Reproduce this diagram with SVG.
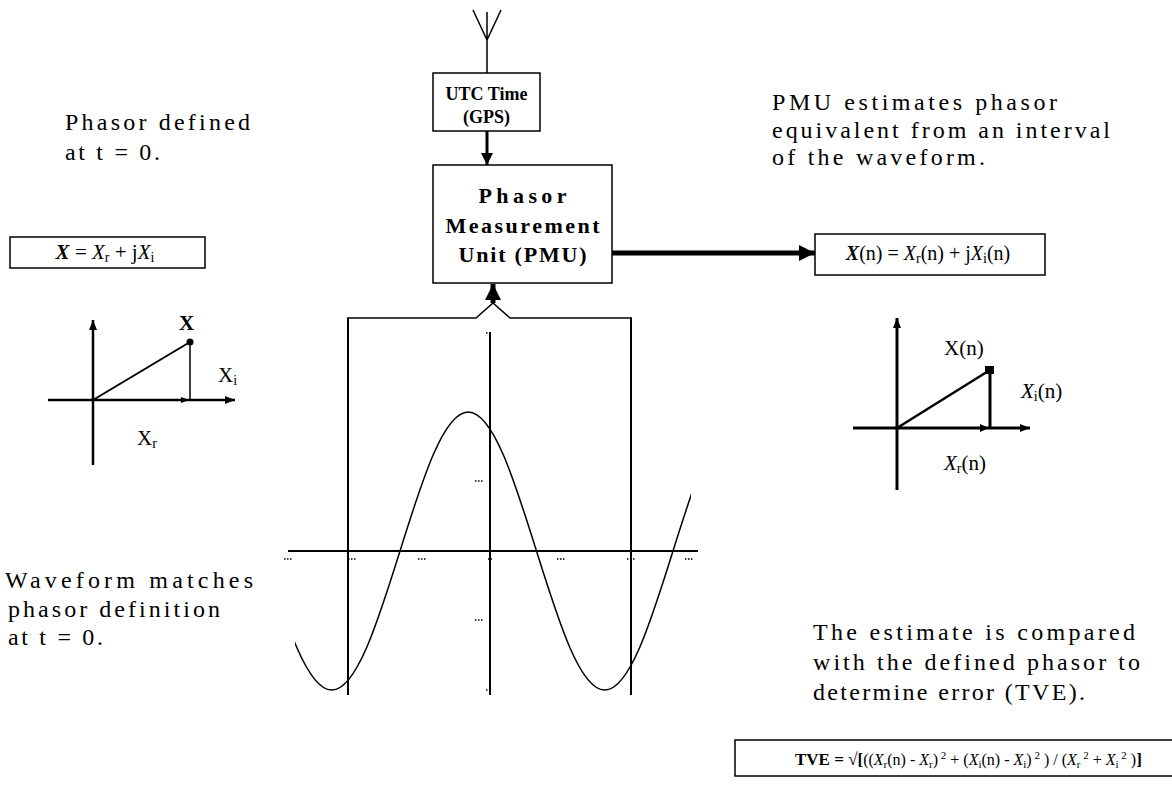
<svg xmlns="http://www.w3.org/2000/svg" width="1172" height="802" viewBox="0 0 1172 802">
<style>
.t{font-family:"Liberation Serif","Times New Roman",serif;font-size:24px;fill:#000}
.b{font-weight:bold}
.i{font-style:italic}
.box{fill:#fff;stroke:#000;stroke-width:1.5}
.ln{stroke:#000;fill:none}
.sub{font-size:14px}
.s2{font-size:11px}
</style>
<defs>
<marker id="ah" viewBox="0 0 10 10" refX="10" refY="5" markerWidth="10" markerHeight="10" markerUnits="userSpaceOnUse" orient="auto"><path d="M0,1 L10,5 L0,9 Z" fill="#000"/></marker>
<marker id="ahm" viewBox="0 0 10 10" refX="10" refY="5" markerWidth="12" markerHeight="12" markerUnits="userSpaceOnUse" orient="auto"><path d="M0,0 L10,5 L0,10 Z" fill="#000"/></marker>
<marker id="ahb" viewBox="0 0 10 10" refX="10" refY="5" markerWidth="16" markerHeight="16" markerUnits="userSpaceOnUse" orient="auto"><path d="M0,0 L10,5 L0,10 Z" fill="#000"/></marker>
<clipPath id="wclip"><rect x="295" y="320" width="396" height="380"/></clipPath>
</defs>
<rect width="1172" height="802" fill="#fff"/>

<g id="antenna">
<path class="ln" style="stroke-width:1.5" d="M473,10 L487,40 L501,10 M487,12 L487,73"/>
</g>

<g id="utc">
<rect class="box" x="433" y="73" width="107" height="58"/>
<text class="t b" x="486.5" y="100" text-anchor="middle" style="font-size:18px">UTC Time</text>
<text class="t b" x="486.5" y="123" text-anchor="middle" style="font-size:18px">(GPS)</text>
</g>

<g id="pmu">
<rect class="box" x="433" y="165" width="179" height="118"/>
<text class="t b" x="522.5" y="203" text-anchor="middle" style="font-size:22px" textLength="88" lengthAdjust="spacing">Phasor</text>
<text class="t b" x="522.5" y="233" text-anchor="middle" style="font-size:22px" textLength="154" lengthAdjust="spacing">Measurement</text>
<text class="t b" x="522.5" y="262" text-anchor="middle" style="font-size:22px" textLength="128" lengthAdjust="spacing">Unit (PMU)</text>
</g>

<g id="connectors">
<line class="ln" x1="487" y1="131" x2="487" y2="165" style="stroke-width:3" marker-end="url(#ahm)"/>
<line class="ln" x1="612" y1="253" x2="815" y2="253" style="stroke-width:5" marker-end="url(#ahb)"/>
<line class="ln" x1="493" y1="303" x2="493" y2="284" style="stroke-width:5" marker-end="url(#ahb)"/>
<path class="ln" style="stroke-width:1.5" d="M347,318 L476,318 L493,303 L510,318 L632,318"/>
</g>

<g id="left-text">
<text class="t" x="65" y="130" textLength="185" lengthAdjust="spacing">Phasor defined</text>
<text class="t" x="65" y="160" textLength="95" lengthAdjust="spacing">at t = 0.</text>
</g>

<g id="phasor-def">
<rect class="box" x="10" y="237" width="195" height="31"/>
<text class="t" x="105" y="259" text-anchor="middle" style="font-size:21px"><tspan class="b i">X</tspan> = <tspan class="i">X</tspan><tspan class="sub" dy="3">r</tspan><tspan dy="-3"> + j</tspan><tspan class="i">X</tspan><tspan class="sub" dy="3">i</tspan></text>
</g>

<g id="left-phasor">
<line class="ln" style="stroke-width:2.5" x1="93" y1="465" x2="93" y2="320" marker-end="url(#ah)"/>
<line class="ln" style="stroke-width:2.5" x1="48" y1="400" x2="235" y2="400" marker-end="url(#ah)"/>
<line class="ln" style="stroke-width:2" x1="93" y1="400" x2="190" y2="342"/>
<line class="ln" style="stroke-width:1.5" x1="190" y1="342" x2="190" y2="400"/>
<circle cx="190" cy="342" r="3.5" fill="#000"/>
<path d="M181,397 L189,400 L181,403 Z" fill="#000"/>
<text class="t b" x="179" y="330" style="font-size:21px">X</text>
<text class="t" x="218" y="382" style="font-size:21px">X<tspan class="sub" dy="3">i</tspan></text>
<text class="t" x="137" y="445" style="font-size:21px">X<tspan class="sub" dy="3">r</tspan></text>
</g>

<g id="left-bottom-text">
<text class="t" x="5" y="588" textLength="248" lengthAdjust="spacing">Waveform matches</text>
<text class="t" x="8" y="617" textLength="212" lengthAdjust="spacing">phasor definition</text>
<text class="t" x="8" y="645" textLength="95" lengthAdjust="spacing">at t = 0.</text>
</g>

<g id="waveform">
<line class="ln" style="stroke-width:2" x1="348" y1="318" x2="348" y2="695"/>
<line class="ln" style="stroke-width:2" x1="631" y1="318" x2="631" y2="695"/>
<line class="ln" style="stroke-width:2" x1="288" y1="551" x2="698" y2="551"/>
<line class="ln" style="stroke-width:2" x1="490" y1="332" x2="490" y2="695"/>
<path class="ln" style="stroke-width:1.5" clip-path="url(#wclip)" d="M263.5,551 C285.76,622.2 307.05,690 331.75,690 C356.45,690 377.75,622.2 400,551 C422.26,479.8 443.55,412 468.25,412 C492.95,412 514.25,479.8 536.5,551 C558.76,622.2 580.05,690 604.75,690 C629.45,690 650.75,622.2 673,551 C695.26,479.8 716.55,412 741.25,412"/>
<g stroke="#000" stroke-width="1.5" stroke-dasharray="1.5 1.5">
<path d="M284,559h9 M348,559h9 M418,559h9 M488,559h4 M557,559h9 M627,559h9 M685,559h9"/>
<path d="M475,481h9 M475,620h9 M486,333h3 M486,690h3"/>
</g>
</g>

<g id="right-top-text">
<text class="t" x="772" y="110" textLength="285" lengthAdjust="spacing">PMU estimates phasor</text>
<text class="t" x="772" y="138" textLength="338" lengthAdjust="spacing">equivalent from an interval</text>
<text class="t" x="772" y="165" textLength="213" lengthAdjust="spacing">of the waveform.</text>
</g>

<g id="estimate">
<rect class="box" x="815" y="234" width="230" height="41"/>
<text class="t" x="928" y="260" text-anchor="middle" style="font-size:20px"><tspan class="b i">X</tspan>(n) = <tspan class="i">X</tspan><tspan class="sub" dy="3">r</tspan><tspan dy="-3">(n) + j</tspan><tspan class="i">X</tspan><tspan class="sub" dy="3">i</tspan><tspan dy="-3">(n)</tspan></text>
</g>

<g id="right-phasor">
<line class="ln" style="stroke-width:3" x1="897" y1="490" x2="897" y2="318" marker-end="url(#ah)"/>
<line class="ln" style="stroke-width:3" x1="853" y1="428" x2="1030" y2="428" marker-end="url(#ah)"/>
<line class="ln" style="stroke-width:2.5" x1="897" y1="428" x2="990" y2="370"/>
<line class="ln" style="stroke-width:3" x1="990" y1="370" x2="990" y2="428"/>
<rect x="985" y="366" width="9" height="8" fill="#000"/>
<path d="M980,424 L989,428 L980,432 Z" fill="#000"/>
<text class="t" x="944" y="355" style="font-size:21px">X(n)</text>
<text class="t" x="1021" y="398" style="font-size:21px"><tspan class="i">X</tspan><tspan class="sub" dy="3">i</tspan><tspan dy="-3">(n)</tspan></text>
<text class="t" x="944" y="470" style="font-size:21px"><tspan class="i">X</tspan><tspan class="sub" dy="3">r</tspan><tspan dy="-3">(n)</tspan></text>
</g>

<g id="right-bottom-text">
<text class="t" x="813" y="640" textLength="322" lengthAdjust="spacing">The estimate is compared</text>
<text class="t" x="813" y="670" textLength="327" lengthAdjust="spacing">with the defined phasor to</text>
<text class="t" x="813" y="700" textLength="272" lengthAdjust="spacing">determine error (TVE).</text>
</g>

<g id="tve">
<rect class="box" x="735" y="740" width="460" height="36"/>
<text class="t" x="795" y="765" style="font-size:16px"><tspan class="b" style="font-size:17px">TVE = √[</tspan>((<tspan class="i">X</tspan><tspan class="s2" dy="3">r</tspan><tspan dy="-3">(n) - </tspan><tspan class="i">X</tspan><tspan class="s2" dy="3">r</tspan><tspan dy="-3">)</tspan><tspan class="s2" dy="-6"> 2</tspan><tspan dy="6"> + (</tspan><tspan class="i">X</tspan><tspan class="s2" dy="3">i</tspan><tspan dy="-3">(n) - </tspan><tspan class="i">X</tspan><tspan class="s2" dy="3">i</tspan><tspan dy="-3">)</tspan><tspan class="s2" dy="-6"> 2</tspan><tspan dy="6">  ) / (</tspan><tspan class="i">X</tspan><tspan class="s2" dy="3">r</tspan><tspan class="s2" dy="-9"> 2</tspan><tspan dy="6"> + </tspan><tspan class="i">X</tspan><tspan class="s2" dy="3">i</tspan><tspan class="s2" dy="-9"> 2</tspan><tspan dy="6"> )</tspan><tspan class="b" style="font-size:17px">]</tspan></text>
</g>
</svg>
